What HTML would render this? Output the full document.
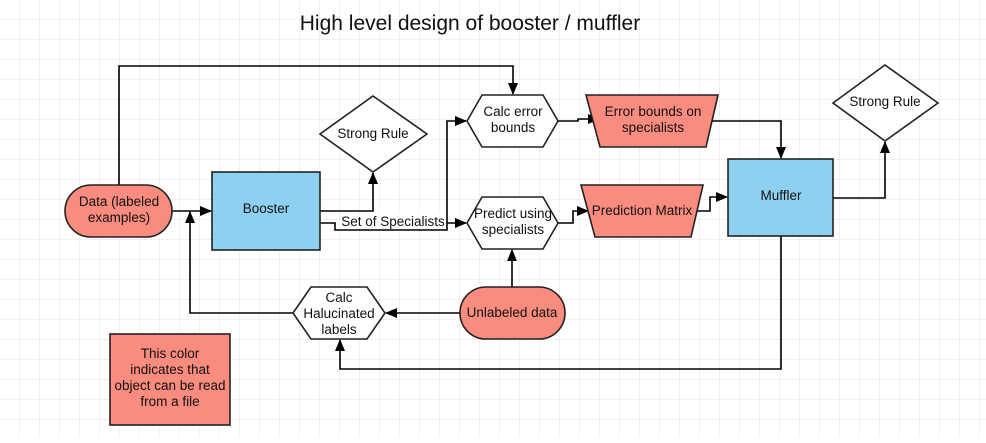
<!DOCTYPE html>
<html><head><style>
body{margin:0;background:#fff;}
svg text{font-family:"Liberation Sans",sans-serif;fill:#111;}
</style></head><body>
<svg width="986" height="438" xmlns="http://www.w3.org/2000/svg">
<defs>
<pattern id="g" width="20" height="20" patternUnits="userSpaceOnUse">
<path d="M20 0V20M0 20H20" stroke="#e0e0e0" stroke-width="1" fill="none"/>
</pattern>
<marker id="a" markerWidth="12" markerHeight="12" refX="11" refY="6" orient="auto" markerUnits="userSpaceOnUse">
<path d="M0,1 L12,6 L0,11 Z" fill="#000"/>
</marker>
</defs>
<rect width="986" height="438" fill="url(#g)"/>
<text x="470" y="30" font-size="21" text-anchor="middle">High level design of booster / muffler</text>
<g stroke="#000" stroke-width="1.6" fill="none">
<path d="M119 185V66H513V94" marker-end="url(#a)"/>
<path d="M172 211H211" marker-end="url(#a)"/>
<path d="M293 313H190V212" marker-end="url(#a)"/>
<path d="M320 211H373V173" marker-end="url(#a)"/>
<path d="M320 223H335V230H447V121H466" marker-end="url(#a)"/>
<path d="M447 223H466" marker-end="url(#a)"/>
<path d="M558 121H578V119H599" marker-end="url(#a)"/>
<path d="M703 121H781V158" marker-end="url(#a)"/>
<path d="M558 223H573V211H588" marker-end="url(#a)"/>
<path d="M690 211H710V197H727" marker-end="url(#a)"/>
<path d="M833 198H885V142" marker-end="url(#a)"/>
<path d="M781 236V369H340V340" marker-end="url(#a)"/>
<path d="M512 287V250" marker-end="url(#a)"/>
<path d="M460 313H386" marker-end="url(#a)"/>
</g>
<g stroke="#222" stroke-width="1.6">
<rect x="65" y="185" width="107" height="52" rx="26" fill="#f98c7e"/>
<rect x="212" y="172" width="108" height="78" fill="#8ed0f0"/>
<polygon points="320,134 373,96 427,134 373,172" fill="#fff"/>
<polygon points="467,121 482,95 543,95 558,121 543,147 482,147" fill="#fff"/>
<polygon points="467,223 482,197 543,197 558,223 543,249 482,249" fill="#fff"/>
<polygon points="586,95 718,95 706,147 600,147" fill="#f98c7e"/>
<polygon points="581,185 703,185 691,237 595,237" fill="#f98c7e"/>
<rect x="728" y="159" width="105" height="77" fill="#8ed0f0"/>
<polygon points="833,103 885,65 938,103 885,141" fill="#fff"/>
<rect x="460" y="287" width="105" height="52" rx="26" fill="#f98c7e"/>
<polygon points="293,313 311,287 367,287 385,313 367,339 311,339" fill="#fff"/>
<rect x="110" y="334" width="120" height="91" fill="#f98c7e"/>
</g>
<rect x="341" y="214" width="104" height="14" fill="#fff"/>
<g font-size="13.5" text-anchor="middle">
<text x="119" y="206">Data (labeled</text><text x="119" y="222">examples)</text>
<text x="266" y="213">Booster</text>
<text x="373" y="138">Strong Rule</text>
<text x="513" y="116">Calc error</text><text x="513" y="132">bounds</text>
<text x="513" y="218">Predict using</text><text x="513" y="234">specialists</text>
<text x="653" y="116">Error bounds on</text><text x="653" y="132">specialists</text>
<text x="642" y="215">Prediction Matrix</text>
<text x="781" y="200">Muffler</text>
<text x="885" y="106">Strong Rule</text>
<text x="512" y="317">Unlabeled data</text>
<text x="339" y="302">Calc</text><text x="339" y="318">Halucinated</text><text x="339" y="334">labels</text>
<text x="393" y="226">Set of Specialists</text>
<text x="170" y="358">This color</text><text x="170" y="374">indicates that</text><text x="170" y="390">object can be read</text><text x="170" y="406">from a file</text>
</g>
</svg>
</body></html>
